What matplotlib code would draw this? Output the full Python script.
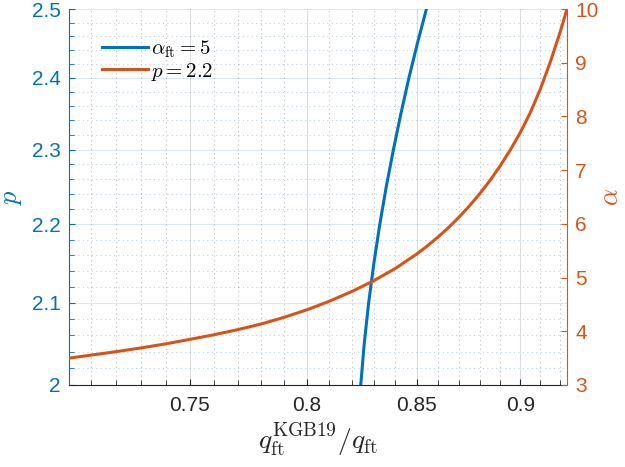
import matplotlib
matplotlib.use("Agg")
import matplotlib.pyplot as plt
import numpy as np
from matplotlib.ticker import FixedLocator, FixedFormatter, NullFormatter, NullLocator

plt.rcParams['font.family'] = ['Liberation Sans', 'DejaVu Sans']
plt.rcParams['mathtext.fontset'] = 'cm'

# curve alpha_ft = 5 : p against q ratio (left axis)
p_blue = [2.0, 2.05, 2.1, 2.15, 2.2, 2.25, 2.3, 2.35, 2.4, 2.45, 2.5]
q_blue = [0.8241, 0.8257, 0.8277, 0.8301, 0.8328, 0.8358, 0.8391, 0.8426, 0.8463, 0.8503, 0.8545]

# curve p = 2.2 : alpha against q ratio (right axis)
q_orange = [0.7016, 0.71, 0.72, 0.73, 0.74, 0.75, 0.76, 0.77, 0.78, 0.79, 0.80, 0.81, 0.82,
            0.83, 0.84, 0.85, 0.855, 0.86, 0.865, 0.87, 0.875, 0.88, 0.885, 0.89, 0.895,
            0.90, 0.905, 0.91, 0.915, 0.92, 0.9234]
a_orange = [3.50, 3.555, 3.62, 3.69, 3.765, 3.85, 3.935, 4.03, 4.135, 4.26, 4.40, 4.56, 4.74,
            4.94, 5.17, 5.44, 5.591, 5.755, 5.932, 6.125, 6.334, 6.56, 6.808, 7.08, 7.379,
            7.705, 8.078, 8.516, 9.02, 9.58, 10.0]

xticks = [0.75, 0.8, 0.85, 0.9]
xtick_labels = ['0.75', '0.8', '0.85', '0.9']
pticks = [2.0, 2.1, 2.2, 2.3, 2.4, 2.5]
ptick_labels = ['2', '2.1', '2.2', '2.3', '2.4', '2.5']
aticks = [3, 4, 5, 6, 7, 8, 9, 10]

blue = '#0072BD'
orange = '#D95319'
dark = '#262626'

fig = plt.figure(figsize=(6.25, 4.67), dpi=100)
ax = fig.add_axes([0.1104, 0.1756, 0.7968, 0.8051])
ax2 = ax.twinx()

l1, = ax.plot(q_blue, p_blue, color=blue, lw=2.2, label=r'$\alpha_{\rm ft}=5$')
l2, = ax2.plot(q_orange, a_orange, color=orange, lw=2.2, label=r'$p=2.2$')

ax.set_xscale('log')
ax.set_yscale('log')
ax.set_xlim(q_orange[0], q_orange[-1])
ax.set_ylim(2.0, 2.5)
ax2.set_ylim(3, 10)

ax.xaxis.set_major_locator(FixedLocator(xticks))
ax.xaxis.set_major_formatter(FixedFormatter(xtick_labels))
ax.xaxis.set_minor_locator(FixedLocator(np.arange(0.71, 0.925, 0.01)))
ax.xaxis.set_minor_formatter(NullFormatter())
ax.yaxis.set_major_locator(FixedLocator(pticks))
ax.yaxis.set_major_formatter(FixedFormatter(ptick_labels))
ax.yaxis.set_minor_locator(FixedLocator(np.arange(2.02, 2.5, 0.02)))
ax.yaxis.set_minor_formatter(NullFormatter())
ax2.set_yticks(aticks)
ax2.set_yticklabels([str(a) for a in aticks])
ax2.yaxis.set_minor_locator(NullLocator())

# grid
ax.xaxis.grid(True, which='major', color=dark, alpha=0.15, lw=0.8)
ax.xaxis.grid(True, which='minor', color=dark, alpha=0.3, lw=0.8, ls=(0, (1, 3)))
ax.yaxis.grid(True, which='major', color=blue, alpha=0.15, lw=0.8)
ax.yaxis.grid(True, which='minor', color=blue, alpha=0.3, lw=0.8, ls=(0, (1, 3)))
ax.set_axisbelow(True)

# ticks and spines
ax.tick_params(axis='x', which='both', direction='in', colors=dark, labelsize=15, pad=8,
               top=False)
ax.tick_params(axis='x', which='major', length=4)
ax.tick_params(axis='x', which='minor', length=3.5)
ax.tick_params(axis='y', which='both', direction='in', colors=blue, labelsize=15, pad=6,
               right=False)
ax.tick_params(axis='y', which='major', length=4)
ax.tick_params(axis='y', which='minor', length=3.5)
ax2.tick_params(axis='y', direction='in', colors=orange, labelsize=15, pad=6, length=4)

for a in (ax, ax2):
    a.spines['top'].set_visible(False)
ax.spines['left'].set_color(blue)
ax.spines['bottom'].set_color(dark)
ax.spines['right'].set_visible(False)
ax2.spines['left'].set_visible(False)
ax2.spines['bottom'].set_visible(False)
ax2.spines['right'].set_color(orange)
for a in (ax, ax2):
    for s in a.spines.values():
        s.set_linewidth(0.8)

ax.set_xlabel(r'$q_{\rm ft}^{\rm KGB19}/q_{\rm ft}$', fontsize=20, color=dark)
ax.xaxis.set_label_coords(0.5, -0.095)
ax.set_ylabel(r'$p$', fontsize=19, color=blue)
ax.yaxis.set_label_coords(-0.09, 0.5)
ax2.set_ylabel(r'$\alpha$', fontsize=19, color=orange)
ax2.yaxis.set_label_coords(1.065, 0.5)

ax2.legend(handles=[l1, l2], loc='upper left', bbox_to_anchor=(0.05, 0.945),
           frameon=False, fontsize=15, handlelength=2.2, handletextpad=0.15,
           labelspacing=0.05, borderaxespad=0)

fig.savefig('out.png', dpi=100)
